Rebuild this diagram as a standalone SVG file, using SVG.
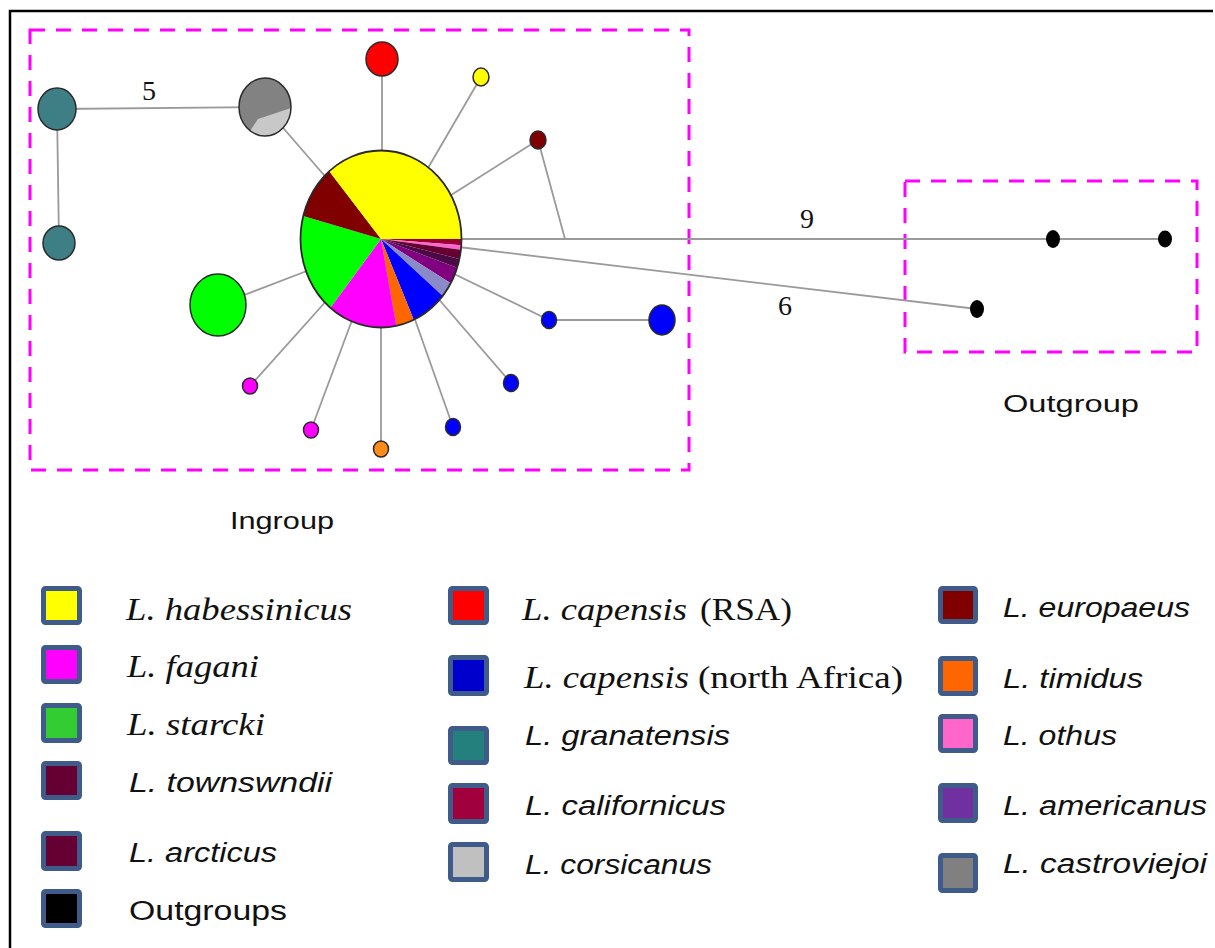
<svg xmlns="http://www.w3.org/2000/svg" width="1215" height="948" viewBox="0 0 1215 948">
<style>
.edge{stroke:#9a9a9a;stroke-width:1.8;fill:none}
.node{stroke:#2a2a2a;stroke-width:1.5}
.box{fill:none;stroke:#ff00ff;stroke-width:3;stroke-dasharray:15 11}
.num{font-family:"Liberation Serif",serif;font-size:28px;fill:#111;text-anchor:middle}
.grp{font-family:"Liberation Sans",sans-serif;font-size:24px;fill:#111}
.lt{font-family:"Liberation Serif",serif;font-size:31px;font-style:italic;fill:#111}
.lr{font-family:"Liberation Serif",serif;font-size:31px;fill:#111}
.ls{font-family:"Liberation Sans",sans-serif;font-size:27px;font-style:italic;fill:#111}
.lsr{font-family:"Liberation Sans",sans-serif;font-size:27px;fill:#111}
.sw{stroke:#3e5b8a;stroke-width:5}
</style>
<rect width="1215" height="948" fill="#ffffff"/>
<path d="M10,948 V11 H1213" fill="none" stroke="#000" stroke-width="2.5"/>
<g id="ingroup-box"><rect class="box" x="30" y="30" width="659" height="440"/></g>
<g id="outgroup-box"><rect class="box" x="905" y="181" width="292" height="171"/></g>
<g id="connectors">
<line class="edge" x1="57" y1="109" x2="265" y2="107"/>
<line class="edge" x1="57" y1="109" x2="59" y2="243"/>
<line class="edge" x1="265" y1="107" x2="330" y2="182"/>
<line class="edge" x1="382" y1="59" x2="382" y2="160"/>
<line class="edge" x1="481" y1="77" x2="428" y2="168"/>
<line class="edge" x1="538" y1="140" x2="448" y2="197"/>
<line class="edge" x1="538" y1="140" x2="565" y2="239"/>
<line class="edge" x1="450" y1="239" x2="1165" y2="239"/>
<line class="edge" x1="450" y1="246" x2="977" y2="309"/>
<line class="edge" x1="218" y1="305" x2="312" y2="269"/>
<line class="edge" x1="250" y1="386" x2="328" y2="299"/>
<line class="edge" x1="311" y1="430" x2="354" y2="315"/>
<line class="edge" x1="381" y1="449" x2="381" y2="320"/>
<line class="edge" x1="453" y1="427" x2="413" y2="314"/>
<line class="edge" x1="511" y1="383" x2="436" y2="296"/>
<line class="edge" x1="549" y1="320" x2="450" y2="272"/>
<line class="edge" x1="549" y1="320" x2="662" y2="320"/>
</g>
<g id="labels">
<text class="num" x="149" y="100">5</text>
<text class="num" x="807" y="228">9</text>
<text class="num" x="785" y="315">6</text>
<text class="grp" x="230" y="529" textLength="104" lengthAdjust="spacingAndGlyphs">Ingroup</text>
<text class="grp" x="1003" y="412" textLength="136" lengthAdjust="spacingAndGlyphs">Outgroup</text>
</g>
<g id="hub">
<path d="M381,239 L461.5,239 A80.5 88.5 0 0 1 461.3,245.17 Z" fill="#99003a"/>
<path d="M381,239 L461.3,245.17 A80.5 88.5 0 0 1 460.9,249.79 Z" fill="#ff66cc"/>
<path d="M381,239 L460.9,249.79 A80.5 88.5 0 0 1 459.44,258.91 Z" fill="#660033"/>
<path d="M381,239 L459.44,258.91 A80.5 88.5 0 0 1 457.11,267.81 Z" fill="#4a0a45"/>
<path d="M381,239 L457.11,267.81 A80.5 88.5 0 0 1 450.72,283.25 Z" fill="#800080"/>
<path d="M381,239 L450.72,283.25 A80.5 88.5 0 0 1 442.67,295.89 Z" fill="#8a8ac8"/>
<path d="M381,239 L442.67,295.89 A80.5 88.5 0 0 1 413.74,319.85 Z" fill="#0000ff"/>
<path d="M381,239 L413.74,319.85 A80.5 88.5 0 0 1 396.36,325.87 Z" fill="#ff6600"/>
<path d="M381,239 L396.36,325.87 A80.5 88.5 0 0 1 330.34,307.78 Z" fill="#ff00ff"/>
<path d="M381,239 L330.34,307.78 A80.5 88.5 0 0 1 303.24,216.09 Z" fill="#00ff00"/>
<path d="M381,239 L303.24,216.09 A80.5 88.5 0 0 1 329.26,171.21 Z" fill="#800000"/>
<path d="M381,239 L329.26,171.21 A80.5 88.5 0 0 1 461.5,239 Z" fill="#ffff00"/>
<ellipse cx="381" cy="239" rx="80.5" ry="88.5" fill="none" stroke="#2a2a2a" stroke-width="1.8"/>
</g>
<g id="n-granatensis-1"><ellipse class="node" cx="57" cy="109" rx="19" ry="21" fill="#3d7f85"/></g>
<g id="n-granatensis-2"><ellipse class="node" cx="59" cy="243" rx="16" ry="17" fill="#3d7f85"/></g>
<g id="n-castroviejoi">
<ellipse cx="265" cy="107" rx="26" ry="29" fill="#828282"/>
<path d="M258,119 L291,108 A26 29 0 0 1 250,131 Z" fill="#c8c8c8"/>
<ellipse class="node" cx="265" cy="107" rx="26" ry="29" fill="none"/>
</g>
<g id="n-red"><ellipse class="node" cx="382" cy="59" rx="16" ry="17" fill="#ff0000"/></g>
<g id="n-yellow"><ellipse class="node" cx="481" cy="77" rx="8" ry="9" fill="#ffff00"/></g>
<g id="n-europaeus"><ellipse class="node" cx="538" cy="140" rx="8" ry="9" fill="#800000"/></g>
<g id="n-green"><ellipse class="node" cx="218" cy="305" rx="28" ry="31" fill="#00ff00"/></g>
<g id="n-fagani-1"><ellipse class="node" cx="250" cy="386" rx="7.5" ry="8" fill="#ff00ff"/></g>
<g id="n-fagani-2"><ellipse class="node" cx="311" cy="430" rx="7.5" ry="8" fill="#ff00ff"/></g>
<g id="n-timidus"><ellipse class="node" cx="381" cy="449" rx="7.5" ry="8" fill="#ff8c1a"/></g>
<g id="n-blue-1"><ellipse class="node" cx="453" cy="427" rx="7.5" ry="8.5" fill="#0000ff"/></g>
<g id="n-blue-2"><ellipse class="node" cx="511" cy="383" rx="7.5" ry="8.5" fill="#0000ff"/></g>
<g id="n-blue-3"><ellipse class="node" cx="549" cy="320" rx="7.5" ry="8.5" fill="#0000ff"/></g>
<g id="n-blue-4"><ellipse class="node" cx="662" cy="320" rx="13" ry="15" fill="#0000ff"/></g>
<g id="n-out-1"><ellipse cx="1053" cy="239" rx="7" ry="9" fill="#000"/></g>
<g id="n-out-2"><ellipse cx="1165" cy="239" rx="7" ry="8.5" fill="#000"/></g>
<g id="n-out-3"><ellipse cx="977" cy="309" rx="7" ry="9" fill="#000"/></g>
<g id="legend">
<rect class="sw" x="43.5" y="588.5" width="36" height="34" rx="2" fill="#ffff00"/>
<rect class="sw" x="43.5" y="647.5" width="36" height="34" rx="2" fill="#ff00ff"/>
<rect class="sw" x="43.5" y="705.5" width="36" height="35" rx="2" fill="#33cc33"/>
<rect class="sw" x="43.5" y="763.5" width="36" height="34" rx="2" fill="#660033"/>
<rect class="sw" x="43.5" y="833.5" width="36" height="35" rx="2" fill="#660033"/>
<rect class="sw" x="43.5" y="891.5" width="36" height="34" rx="2" fill="#000000"/>
<text class="lt" x="126" y="620" textLength="226" lengthAdjust="spacingAndGlyphs">L. habessinicus</text>
<text class="lt" x="127" y="677" textLength="132" lengthAdjust="spacingAndGlyphs">L. fagani</text>
<text class="lt" x="127" y="735" textLength="138" lengthAdjust="spacingAndGlyphs">L. starcki</text>
<text class="ls" x="129" y="792" textLength="203" lengthAdjust="spacingAndGlyphs">L. townswndii</text>
<text class="ls" x="129" y="862" textLength="148" lengthAdjust="spacingAndGlyphs">L. arcticus</text>
<text class="lsr" x="129" y="920" textLength="158" lengthAdjust="spacingAndGlyphs">Outgroups</text>
<rect class="sw" x="450.5" y="588.5" width="36" height="34" rx="2" fill="#ff0000"/>
<rect class="sw" x="450.5" y="657.5" width="36" height="36" rx="2" fill="#0000cc"/>
<rect class="sw" x="450.5" y="728.5" width="36" height="34" rx="2" fill="#23807d"/>
<rect class="sw" x="450.5" y="785.5" width="36" height="36" rx="2" fill="#a0003c"/>
<rect class="sw" x="450.5" y="844.5" width="36" height="35" rx="2" fill="#c0c0c0"/>
<text class="lt" x="522" y="620" textLength="165" lengthAdjust="spacingAndGlyphs">L. capensis</text>
<text class="lr" x="700" y="620" textLength="92" lengthAdjust="spacingAndGlyphs">(RSA)</text>
<text class="lt" x="524" y="688" textLength="165" lengthAdjust="spacingAndGlyphs">L. capensis</text>
<text class="lr" x="698" y="688" textLength="205" lengthAdjust="spacingAndGlyphs">(north Africa)</text>
<text class="ls" x="525" y="745" textLength="205" lengthAdjust="spacingAndGlyphs">L. granatensis</text>
<text class="ls" x="525" y="815" textLength="201" lengthAdjust="spacingAndGlyphs">L. californicus</text>
<text class="ls" x="525" y="874" textLength="187" lengthAdjust="spacingAndGlyphs">L. corsicanus</text>
<rect class="sw" x="940.5" y="588.5" width="35" height="33" rx="2" fill="#800000"/>
<rect class="sw" x="940.5" y="658.5" width="35" height="35" rx="2" fill="#ff6600"/>
<rect class="sw" x="940.5" y="716.5" width="35" height="34" rx="2" fill="#ff66cc"/>
<rect class="sw" x="940.5" y="785.5" width="35" height="35" rx="2" fill="#7030a0"/>
<rect class="sw" x="940.5" y="855.5" width="35" height="35" rx="2" fill="#808080"/>
<text class="ls" x="1003" y="617" textLength="187" lengthAdjust="spacingAndGlyphs">L. europaeus</text>
<text class="ls" x="1003" y="688" textLength="140" lengthAdjust="spacingAndGlyphs">L. timidus</text>
<text class="ls" x="1003" y="745" textLength="114" lengthAdjust="spacingAndGlyphs">L. othus</text>
<text class="ls" x="1003" y="815" textLength="204" lengthAdjust="spacingAndGlyphs">L. americanus</text>
<text class="ls" x="1003" y="873" textLength="204" lengthAdjust="spacingAndGlyphs">L. castroviejoi</text>
</g>
</svg>
